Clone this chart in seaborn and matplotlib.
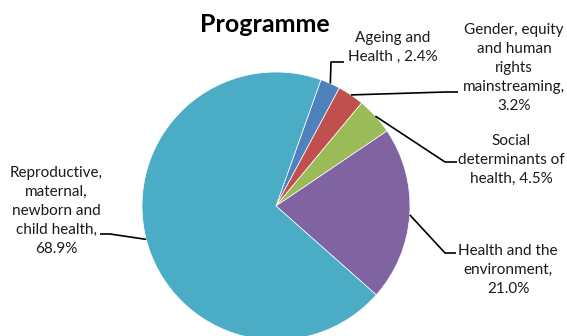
import matplotlib
matplotlib.use("Agg")
import matplotlib.pyplot as plt
import numpy as np
import seaborn as sns

# Programme budget shares (%)
categories = [
    "Ageing and\nHealth , 2.4%",
    "Gender, equity\nand human\nrights\nmainstreaming,\n3.2%",
    "Social\ndeterminants of\nhealth, 4.5%",
    "Health and the\nenvironment,\n21.0%",
    "Reproductive,\nmaternal,\nnewborn and\nchild health,\n68.9%",
]
shares = [2.4, 3.2, 4.5, 21.0, 68.9]
colors = ["#4F81BD", "#C0504D", "#9BBB59", "#8064A2", "#4BACC6"]

sns.set_theme(style="white")
plt.rcParams["font.family"] = ["Lato", "DejaVu Sans"]

W, H = 567, 336
fig = plt.figure(figsize=(W / 100, H / 100), dpi=100)
ax = fig.add_axes([0, 0, 1, 1])

def fy(y):
    # pixel row (from top) -> data y
    return H - y

cx, cy, r = 276, fy(206), 134
palette = sns.color_palette(colors)
wedges, _ = ax.pie(shares, colors=palette, startangle=70.4, counterclock=False,
                   center=(cx, cy), radius=r, frame=True,
                   wedgeprops=dict(edgecolor="white", linewidth=0.5))
ax.set_xlim(0, W)
ax.set_ylim(0, H)
ax.set_aspect("equal")
ax.axis("off")

# leader elbows and label anchors (pixel rows from top)
leader_path = [
    [(331, 62), (344, 62)],
    [(446, 92), (458, 92)],
    [(445, 162), (457, 162)],
    [(445, 253), (456, 253)],
    [(110, 234), (100, 234)],
]
label_pos = [(393, 47), (514, 68), (511, 160), (508, 270), (56, 211)]

for w, path, (tx, ty), text in zip(wedges, leader_path, label_pos, categories):
    mid = np.deg2rad((w.theta1 + w.theta2) / 2)
    sx, sy = cx + r * np.cos(mid), cy + r * np.sin(mid)
    xs = [sx] + [p[0] for p in path]
    ys = [sy] + [fy(p[1]) for p in path]
    ax.plot(xs, ys, color="black", lw=1.2, solid_capstyle="butt", zorder=3)
    ax.text(tx, fy(ty), text, ha="center", va="center", fontsize=11,
            linespacing=1.45, color="#1a1a1a")

ax.text(265, fy(25), "Programme", ha="center", va="center", fontsize=18,
        fontweight="bold", color="black")

fig.savefig("out.png", dpi=100, facecolor="white")
